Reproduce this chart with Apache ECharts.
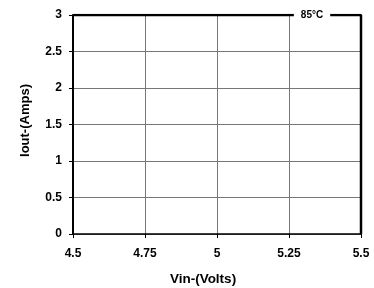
<!DOCTYPE html>
<html><head><meta charset="utf-8">
<script src="https://cdn.jsdelivr.net/npm/echarts@6/dist/echarts.min.js"></script>
<style>html,body{margin:0;padding:0;background:#fff}#c{width:374px;height:288px}</style>
</head><body><div id="c"></div>
<script>
var lineX = [4.5, 5.5, 5.5];
var lineY = [3, 3, 0];
var seriesLabel = '85°C';
var labelX = 5.33;
var labelY = 3;
var xTitle = 'Vin-(Volts)';
var yTitle = 'Iout-(Amps)';

var chart = echarts.init(document.getElementById('c'));
var font = 'Liberation Sans';
chart.setOption({
  animation: false,
  grid: {left: 73, right: 13, top: 15, bottom: 54, containLabel: false, outerBoundsMode: 'none'},
  xAxis: {
    type: 'value', min: 4.5, max: 5.5, interval: 0.25,
    name: xTitle, nameLocation: 'middle', nameGap: 38,
    nameTextStyle: {fontFamily: font, fontWeight: 'bold', fontSize: 13.5, color: '#000', padding: [0, 28, 0, 0]},
    axisLine: {lineStyle: {color: '#000', width: 1.5}},
    axisTick: {show: true, length: 4, inside: false, lineStyle: {color: '#000'}},
    axisLabel: {fontFamily: font, fontWeight: 'bold', fontSize: 12, color: '#000', margin: 14},
    splitLine: {show: true, lineStyle: {color: '#777', width: 1}}
  },
  yAxis: {
    type: 'value', min: 0, max: 3, interval: 0.5,
    name: yTitle, nameLocation: 'middle', nameGap: 41,
    nameTextStyle: {fontFamily: font, fontWeight: 'bold', fontSize: 13, color: '#000', padding: [0, 0, 0, 8]},
    axisLine: {show: true, lineStyle: {color: '#000', width: 2}},
    axisTick: {show: true, length: 4, inside: false, lineStyle: {color: '#000'}},
    axisLabel: {fontFamily: font, fontWeight: 'bold', fontSize: 12, color: '#000', margin: 11},
    splitLine: {show: true, lineStyle: {color: '#777', width: 1}}
  },
  series: [
    {
      type: 'line', symbol: 'none',
      data: lineX.map(function (x, i) { return [x, lineY[i]]; }),
      lineStyle: {color: '#000', width: 2.5}, z: 3
    },
    {
      type: 'scatter', symbolSize: 0, z: 5,
      data: [[labelX, labelY]],
      itemStyle: {opacity: 1},
      label: {
        show: true, position: 'inside', formatter: seriesLabel,
        fontFamily: font, fontWeight: 'bold', fontSize: 10, color: '#000',
        backgroundColor: '#fff', padding: [2, 7]
      }
    }
  ]
});
</script></body></html>
